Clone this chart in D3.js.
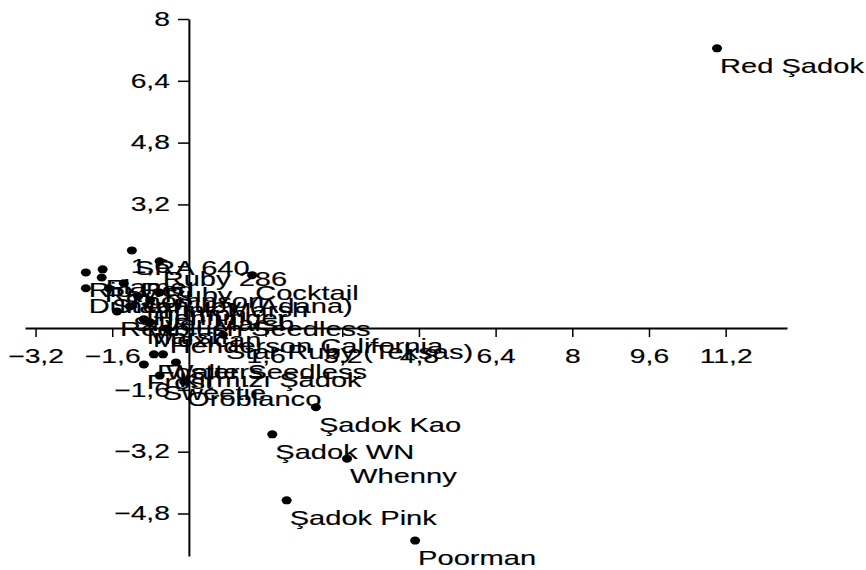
<!DOCTYPE html>
<html>
<head>
<meta charset="utf-8">
<script src="https://cdn.jsdelivr.net/npm/d3@7"></script>
<style>
  body { margin: 0; background: #fff; }
  svg { display: block; }
  text { font-family: "Liberation Sans", Arial, sans-serif; fill: #000; stroke: #000; stroke-width: 0.15px; }
</style>
</head>
<body>
<svg></svg>
<script>
// Variety names and their scores on the two components
const names = [
    "Red Şadok", "Şadok Kao", "Şadok WN", "Whenny", "Şadok Pink", "Poorman",
    "SRA 640", "Ruby 286", "Cocktail", "Rio Red", "Flame", "Ray Ruby", "Duncan",
    "Star Ruby (Adana)", "Thompson", "Triumph", "Pink Marsh", "Henninger",
    "Silver Marsh", "Redblush Seedless", "Marsh", "Mexican", "Henderson California",
    "Star Ruby (Teksas)", "Foster Seedless", "Walters", "Frost", "Kırmızı Şadok",
    "Sweetie", "Oroblanco"
];
const xValues = [
    11.02, 2.65, 1.74, 3.30, 2.04, 4.72,
    -1.19, -0.61, 1.32, -2.15, -1.80, -1.82, -2.15,
    -1.67, -1.36, -1.06, -0.61, -0.81,
    -1.23, -1.50, -0.94, -0.81, -0.46,
    0.71, -0.73, -0.54, -0.94, -0.27,
    -0.61, -0.10
];
const yValues = [
    7.24, -2.05, -2.75, -3.38, -4.46, -5.50,
    2.01, 1.73, 1.37, 1.44, 1.52, 1.31, 1.03,
    1.03, 1.16, 0.82, 0.92, 0.72,
    0.56, 0.43, 0.23, 0.15, -0.01,
    -0.17, -0.68, -0.68, -0.94, -0.89,
    -1.23, -1.39
];
const xTicks = [-3.2, -1.6, 1.6, 3.2, 4.8, 6.4, 8, 9.6, 11.2];
const yTicks = [-4.8, -3.2, -1.6, 1.6, 3.2, 4.8, 6.4, 8];

const width = 866;
const height = 570;
const stretch = 1.45;   // text in the original is drawn wide

const points = names.map((n, i) => ({ name: n, x: xValues[i], y: yValues[i] }));

const svg = d3.select("svg")
    .attr("width", width)
    .attr("height", height);

const x = d3.scaleLinear().domain([-3.42, 12.48]).range([25, 787]);
const y = d3.scaleLinear().domain([-5.9, 8]).range([556, 19]);

const fmt = d => d3.format(".2~f")(d).replace(".", ",");

// stretch tick labels horizontally around their anchor
function wideText(sel) {
    sel.selectAll("text")
        .style("font-size", "19.5px")
        .attr("transform", function () {
            const tx = +this.getAttribute("x") || 0;
            this.setAttribute("x", 0);
            return `translate(${tx},0) scale(${stretch},1)`;
        });
}

// Axes crossing at the origin
const xAxis = svg.append("g")
    .attr("transform", `translate(0, ${y(0)})`)
    .call(d3.axisBottom(x).tickValues(xTicks).tickFormat(fmt)
        .tickSize(9).tickSizeOuter(0).tickPadding(12));

const yAxis = svg.append("g")
    .attr("transform", `translate(${x(0)}, 0)`)
    .call(d3.axisLeft(y).tickValues(yTicks).tickFormat(fmt)
        .tickSize(11).tickSizeOuter(0).tickPadding(8));

[xAxis, yAxis].forEach(a => {
    a.select(".domain").attr("stroke", "#000").attr("stroke-width", 2);
    a.selectAll(".tick line").attr("stroke", "#000").attr("stroke-width", 1.5);
    a.attr("font-family", null);
    wideText(a);
});

// Point labels, below and to the right of each dot
svg.selectAll(".pt-label")
    .data(points)
    .enter()
    .append("text")
    .attr("class", "pt-label")
    .attr("transform", d => `translate(${x(d.x) + 3}, ${y(d.y) + 24.5}) scale(${stretch - 0.03},1)`)
    .style("font-size", "20.5px")
    .text(d => d.name);

// Dots
svg.selectAll(".pt")
    .data(points)
    .enter()
    .append("ellipse")
    .attr("class", "pt")
    .attr("cx", d => x(d.x))
    .attr("cy", d => y(d.y))
    .attr("rx", 5)
    .attr("ry", 4)
    .attr("fill", "#000");
</script>
</body>
</html>
